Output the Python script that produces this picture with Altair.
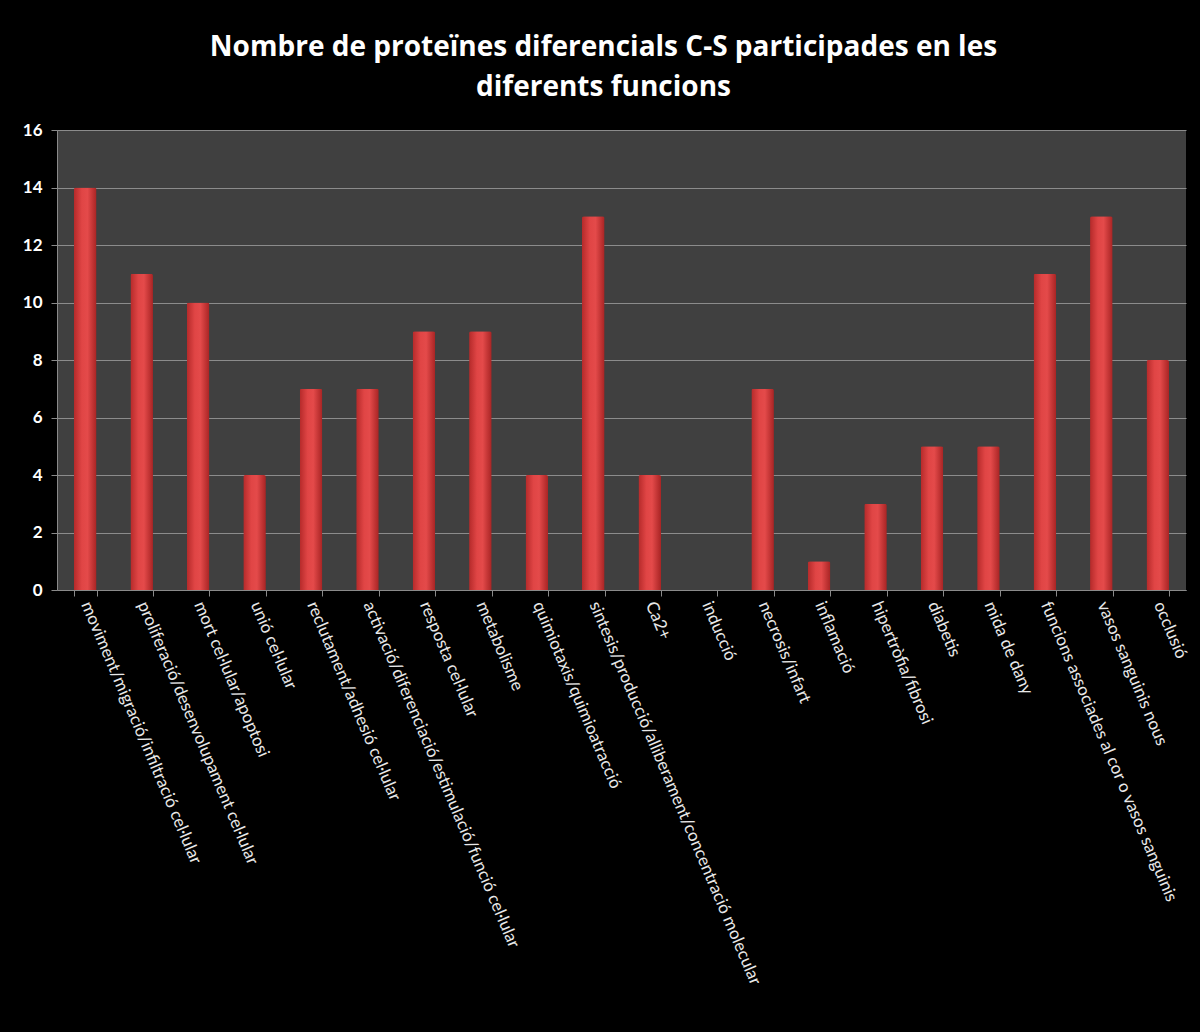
import altair as alt
import pandas as pd

categories = [
    "moviment/migració/infiltració cel·lular",
    "proliferació/desenvolupament cel·lular",
    "mort cel·lular/apoptosi",
    "unió cel·lular",
    "reclutament/adhesió cel·lular",
    "activació/diferenciació/estimulació/funció cel·lular",
    "resposta cel·lular",
    "metabolisme",
    "quimiotaxis/quimioatracció",
    "sintesis/producció/alliberament/concentració molecular",
    "Ca2+",
    "inducció",
    "necrosis/infart",
    "inflamació",
    "hipertròfia/fibrosi",
    "diabetis",
    "mida de dany",
    "funcions associades al cor o vasos sanguinis",
    "vasos sanguinis nous",
    "occlusió",
]
values = [14, 11, 10, 4, 7, 7, 9, 9, 4, 13, 4, 0, 7, 1, 3, 5, 5, 11, 13, 8]
y_ticks = [0, 2, 4, 6, 8, 10, 12, 14, 16]

df = pd.DataFrame({"cat": categories, "val": values})

bar_fill = {
    "gradient": "linear",
    "x1": 0, "x2": 1, "y1": 0, "y2": 0,
    "stops": [
        {"offset": 0, "color": "#b52a2a"},
        {"offset": 0.35, "color": "#e04545"},
        {"offset": 0.6, "color": "#e44a4a"},
        {"offset": 1, "color": "#a82424"},
    ],
}

chart = (
    alt.Chart(df)
    .mark_bar(fill=bar_fill, cornerRadiusTopLeft=2, cornerRadiusTopRight=2)
    .encode(
        x=alt.X(
            "cat:N",
            sort=None,
            title=None,
            scale=alt.Scale(paddingInner=0.6, paddingOuter=0.3),
            axis=alt.Axis(
                labelAngle=67,
                labelAlign="left",
                labelBaseline="middle",
                labelColor="#e8e8e8",
                labelFont="Lato",
                labelFontSize=17,
                labelLimit=0,
                labelPadding=6,
                domainColor="#8a8a8a",
                tickColor="#8a8a8a",
                tickBand="extent",
                tickSize=6,
                grid=False,
            ),
        ),
        y=alt.Y(
            "val:Q",
            title=None,
            scale=alt.Scale(domain=[0, 16]),
            axis=alt.Axis(
                values=y_ticks,
                labelColor="#ffffff",
                labelFont="Lato",
                labelFontWeight="bold",
                labelFontSize=17,
                labelPadding=9,
                domainColor="#8a8a8a",
                tickColor="#8a8a8a",
                tickSize=6,
                gridColor="#8c8c8c",
                gridWidth=1,
            ),
        ),
    )
    .properties(
        width=1129,
        height=460,
        autosize=alt.AutoSizeParams(type="none"),
        padding={"left": 57, "top": 130, "right": 14, "bottom": 442},
        background="#000000",
        title=alt.TitleParams(
            text=[
                "Nombre de proteïnes diferencials C-S participades en les",
                "diferents funcions",
            ],
            color="#ffffff",
            font="Open Sans",
            fontWeight="bold",
            fontSize=28,
            lineHeight=40,
            anchor="middle",
            offset=19,
            dx=-18,
        ),
    )
    .configure_view(fill="#404040", stroke=None)
)

chart.save("out.html", embed_options={"renderer": "svg", "actions": False})
